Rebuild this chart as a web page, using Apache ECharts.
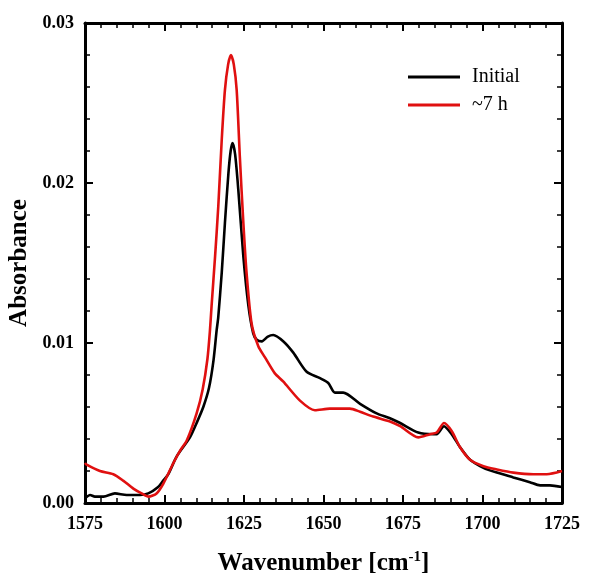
<!DOCTYPE html>
<html>
<head>
<meta charset="utf-8">
<script src="https://cdn.jsdelivr.net/npm/echarts@6/dist/echarts.min.js"></script>
<style>
html,body{margin:0;padding:0;background:#fff;}
#chart{width:600px;height:586px;}
</style>
</head>
<body>
<div id="chart"></div>
<script>
const seriesNames = ['Initial', '~7 h'];
const xTicks = [1575, 1600, 1625, 1650, 1675, 1700, 1725];
const yTicks = [0.00, 0.01, 0.02, 0.03];

const initialWn = [1575, 1576.6, 1578.1, 1580.8, 1584.4, 1588.1, 1592.3, 1594.9, 1598.0, 1599.6, 1601.2, 1603.8, 1608.0, 1610.1, 1612.2, 1614.0, 1615.4, 1616.4, 1616.9, 1618.0, 1619.0, 1620.1, 1620.8, 1621.4, 1622.2, 1623.2, 1624.8, 1626.4, 1627.9, 1629.0, 1630.6, 1632.5, 1634.2, 1637.4, 1640.5, 1644.7, 1648.9, 1651.5, 1653.6, 1656.2, 1661.5, 1666.7, 1670.9, 1674.1, 1679.8, 1684.5, 1685.6, 1687.9, 1690.3, 1692.9, 1696.1, 1700.3, 1704.5, 1709.7, 1714.9, 1718.1, 1721.2, 1725];
const initialAbs = [0.0003, 0.0005, 0.0004, 0.0004, 0.0006, 0.0005, 0.0005, 0.0006, 0.0010, 0.0014, 0.0018, 0.0029, 0.0041, 0.0050, 0.0060, 0.0072, 0.0089, 0.0108, 0.0116, 0.0144, 0.0175, 0.0206, 0.0220, 0.0225, 0.0218, 0.0196, 0.0154, 0.0123, 0.0106, 0.0102, 0.0101, 0.0104, 0.0105, 0.0101, 0.0094, 0.0082, 0.0078, 0.0075, 0.0069, 0.0069, 0.0062, 0.0056, 0.0053, 0.0050, 0.0044, 0.0043, 0.0043, 0.0048, 0.0043, 0.0035, 0.0027, 0.0022, 0.0019, 0.0016, 0.0013, 0.0011, 0.0011, 0.0010];

const h7Wn = [1575, 1575.5, 1579.7, 1583.9, 1587.0, 1590.2, 1592.8, 1595.0, 1597.5, 1599.6, 1602.8, 1605.0, 1607.0, 1610.1, 1612.0, 1613.5, 1614.3, 1614.8, 1615.9, 1616.9, 1618.0, 1619.0, 1620.0, 1620.9, 1621.8, 1622.7, 1623.7, 1624.8, 1625.8, 1627.4, 1629.5, 1631.6, 1634.7, 1637.3, 1642.6, 1647.3, 1652.0, 1658.3, 1661.5, 1665.6, 1670.9, 1674.1, 1679.8, 1683.5, 1685.6, 1687.9, 1690.3, 1692.9, 1696.1, 1700.3, 1704.5, 1709.7, 1716.0, 1720.2, 1725];
const h7Abs = [0.0025, 0.0024, 0.0020, 0.0018, 0.0014, 0.0009, 0.0006, 0.0004, 0.0006, 0.0012, 0.0025, 0.0033, 0.0039, 0.0056, 0.0071, 0.0090, 0.0108, 0.0123, 0.0154, 0.0185, 0.0227, 0.0258, 0.0274, 0.0280, 0.0274, 0.0258, 0.0216, 0.0175, 0.0144, 0.0112, 0.0098, 0.0091, 0.0081, 0.0076, 0.0064, 0.0058, 0.0059, 0.0059, 0.0057, 0.0054, 0.0051, 0.0048, 0.0041, 0.0043, 0.0044, 0.0050, 0.0045, 0.0035, 0.0027, 0.0023, 0.0021, 0.0019, 0.0018, 0.0018, 0.0020];

const serif = '"Liberation Serif", "DejaVu Serif", serif';
const pairs = (xs, ys) => xs.map((x, i) => [x, ys[i]]);

const chart = echarts.init(document.getElementById('chart'), null, {renderer: 'canvas'});

const axisLineStyle = {show: true, onZero: false, lineStyle: {color: '#000', width: 3}};
const xBase = {
  type: 'value', min: xTicks[0], max: xTicks[xTicks.length - 1], interval: 25,
  axisLine: axisLineStyle,
  axisTick: {show: true, inside: true, length: 8, lineStyle: {color: '#000', width: 2}},
  minorTick: {show: true, splitNumber: 5, length: 5, lineStyle: {color: '#000', width: 1.5}},
  splitLine: {show: false}
};
const yBase = {
  type: 'value', min: yTicks[0], max: yTicks[yTicks.length - 1], interval: 0.01,
  axisLine: axisLineStyle,
  axisTick: {show: true, inside: true, length: 8, lineStyle: {color: '#000', width: 2}},
  minorTick: {show: true, splitNumber: 5, length: 5, lineStyle: {color: '#000', width: 1.5}},
  splitLine: {show: false}
};

chart.setOption({
  animation: false,
  backgroundColor: '#fff',
  grid: {left: 85, right: 38, top: 23, bottom: 83, containLabel: false, outerBoundsMode: 'none'},
  legend: {
    orient: 'vertical', left: 408, top: 66, padding: 0, itemWidth: 52, itemHeight: 3, itemGap: 6,
    icon: 'rect',
    textStyle: {fontFamily: serif, fontSize: 20, color: '#000', lineHeight: 22, padding: [0, 0, 0, 7]},
    data: seriesNames
  },
  xAxis: [
    Object.assign({}, xBase, {
      position: 'bottom',
      name: '{a|Wavenumber [cm}{s|-1}{a|]}',
      nameLocation: 'middle', nameGap: 47,
      nameTextStyle: {
        rich: {
          a: {fontFamily: serif, fontSize: 25, fontWeight: 'bold', color: '#000'},
          s: {fontFamily: serif, fontSize: 15, fontWeight: 'bold', color: '#000', padding: [0, 0, 12, 0]}
        }
      },
      axisLabel: {show: true, margin: 12, fontFamily: serif, fontSize: 18, fontWeight: 'bold', color: '#000',
        formatter: v => String(v)}
    }),
    Object.assign({}, xBase, {position: 'top', axisLabel: {show: false}})
  ],
  yAxis: [
    Object.assign({}, yBase, {
      position: 'left',
      name: 'Absorbance', nameLocation: 'middle', nameGap: 48,
      nameTextStyle: {fontFamily: serif, fontSize: 25, fontWeight: 'bold', color: '#000'},
      axisLabel: {show: true, margin: 11, fontFamily: serif, fontSize: 18, fontWeight: 'bold', color: '#000',
        formatter: v => v.toFixed(2)}
    }),
    Object.assign({}, yBase, {position: 'right', axisLabel: {show: false}})
  ],
  series: [
    {
      name: seriesNames[0], type: 'line', data: pairs(initialWn, initialAbs),
      showSymbol: false, symbol: 'none', smooth: 0.25, z: 3,
      lineStyle: {color: '#000', width: 2.6}, itemStyle: {color: '#000'}
    },
    {
      name: seriesNames[1], type: 'line', data: pairs(h7Wn, h7Abs),
      showSymbol: false, symbol: 'none', smooth: 0.25, z: 4,
      lineStyle: {color: '#e01010', width: 2.6}, itemStyle: {color: '#e01010'}
    }
  ]
});
</script>
</body>
</html>
